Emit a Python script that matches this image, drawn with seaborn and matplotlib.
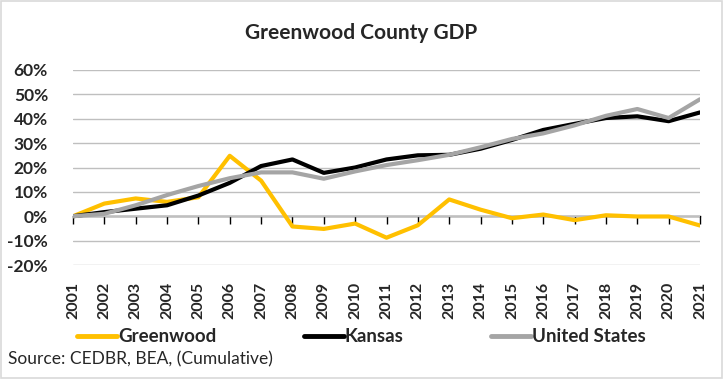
import pandas as pd
import matplotlib.pyplot as plt
import seaborn as sns
from matplotlib.patches import Rectangle

# datos (crecimiento acumulado del PIB, %)
years = list(range(2001, 2022))
greenwood = [0, 5.2, 7.3, 5.9, 7.8, 24.8, 14.6, -4.2, -5.2, -3.0, -8.8,
             -3.7, 6.9, 2.7, -0.8, 0.7, -1.6, 0.4, -0.1, -0.1, -3.8]
kansas = [0, 1.7, 3.1, 4.5, 8.5, 13.7, 20.6, 23.3, 17.8, 20.0, 23.3,
          25.0, 25.2, 27.7, 31.3, 35.4, 37.9, 40.3, 41.0, 39.0, 42.6]
usa = [0, 1.0, 4.5, 8.7, 12.4, 15.6, 18.0, 18.0, 15.4, 18.4, 21.0,
       23.0, 25.2, 28.3, 31.7, 34.0, 37.3, 41.2, 44.0, 40.3, 48.0]
series = ['Greenwood', 'Kansas', 'United States']
colores = ['#FFC000', '#000000', '#A5A5A5']
yticks = list(range(-20, 61, 10))

df = pd.DataFrame({'Year': years * 3,
                   'Value': greenwood + kansas + usa,
                   'Serie': [s for s in series for _ in years]})

sns.set_style('white')
plt.rcParams['font.family'] = ['Lato', 'DejaVu Sans']

fig = plt.figure(figsize=(7.23, 3.79), dpi=100)
ax = fig.add_axes([73/723, 1-265/379, (700-73)/723, (265-70)/379])

sns.lineplot(data=df, x='Year', y='Value', hue='Serie', hue_order=series,
             palette=colores, linewidth=3, ax=ax, legend=False)

ax.set_xlim(2001, 2021)
ax.set_ylim(-20, 60)
ax.set_yticks(yticks)
ax.set_yticklabels([f'{v}%' for v in yticks], fontsize=12.5, fontweight='bold')
ax.set_xticks(years)
ax.set_xticklabels([str(y) for y in years], rotation=90, fontsize=11.5,
                   fontweight='bold')
ax.tick_params(axis='x', length=0, pad=12)
ax.tick_params(axis='y', length=0, pad=18)
ax.grid(axis='y', color='#BFBFBF', linewidth=1)
ax.set_axisbelow(True)
for s in ax.spines.values():
    s.set_visible(False)
ax.set_xlabel('')
ax.set_ylabel('')

# eje en 0 con marcas hacia abajo
pos0 = (0 - ax.get_ylim()[0]) / (ax.get_ylim()[1] - ax.get_ylim()[0])
sec = ax.secondary_xaxis(pos0)
sec.set_xticks(years)
sec.tick_params(axis='x', direction='out', length=6, width=1,
                color='black', labelbottom=False)
sec.spines['bottom'].set_color('black')
sec.spines['bottom'].set_linewidth(1)

fig.text(0.5, 1-33/379, 'Greenwood County GDP', ha='center', va='center',
         fontsize=15, fontweight='bold')

handles = [plt.Line2D([], [], color=c, linewidth=3.5) for c in colores]
leg = fig.legend(handles, series, loc='center', bbox_to_anchor=(0.5, 1-337/379),
                 ncol=3, frameon=False, handlelength=2.1, handletextpad=0.05,
                 columnspacing=4.7, prop={'size': 13.5, 'weight': 'bold'})

fig.text(8/723, 1-359/379, 'Source: CEDBR, BEA, (Cumulative)', ha='left',
         va='center', fontsize=12.5)

fig.patches.append(Rectangle((0.002, 0.003), 0.996, 0.994, transform=fig.transFigure,
                             fill=False, edgecolor='#D9D9D9', linewidth=1.2))

fig.savefig('out.png', dpi=100)
